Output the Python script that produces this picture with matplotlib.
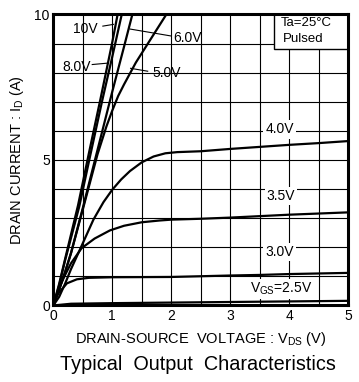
import matplotlib
matplotlib.use("Agg")
import matplotlib.pyplot as plt
from matplotlib.patches import Rectangle

plt.rcParams.update({
    'font.family': ['Liberation Sans', 'DejaVu Sans'],
    'mathtext.fontset': 'custom',
    'mathtext.rm': 'Liberation Sans',
    'mathtext.it': 'Liberation Sans',
})

# drain current curves (V_DS in V, I_D in A)
v_10 = [0, 0.1, 0.2, 0.42, 0.6, 0.8, 1.0, 1.09]
i_10 = [0, 0.75, 1.6, 3.45, 5.2, 7.1, 9.05, 10.0]

v_8 = [0, 0.1, 0.2, 0.44, 0.62, 0.83, 1.0, 1.16]
i_8 = [0, 0.7, 1.55, 3.4, 5.1, 7.05, 8.55, 10.0]

v_6 = [0, 0.1, 0.2, 0.3, 0.5, 0.75, 1.0, 1.2, 1.34]
i_6 = [0, 0.55, 1.15, 1.8, 3.35, 5.35, 7.35, 8.9, 10.0]

v_5 = [0, 0.1, 0.2, 0.3, 0.5, 0.75, 0.9, 1.0, 1.1, 1.2, 1.4, 1.65, 1.9]
i_5 = [0, 0.55, 1.15, 1.8, 3.3, 5.2, 6.15, 6.7, 7.2, 7.6, 8.35, 9.15, 9.95]

v_4 = [0, 0.1, 0.2, 0.3, 0.48, 0.68, 0.85, 1.0, 1.15, 1.3, 1.5, 1.7, 1.9,
       2.1, 2.5, 3.0, 3.5, 4.0, 4.5, 5.0]
i_4 = [0, 0.3, 0.75, 1.25, 2.05, 2.95, 3.55, 3.98, 4.33, 4.62, 4.92, 5.12, 5.23,
       5.27, 5.3, 5.38, 5.45, 5.52, 5.58, 5.65]

v_35 = [0, 0.05, 0.12, 0.2, 0.3, 0.48, 0.7, 0.96, 1.2, 1.5, 1.8, 2.0, 2.5, 3.0,
        3.5, 4.0, 4.5, 5.0]
i_35 = [0, 0.3, 0.7, 1.05, 1.45, 1.97, 2.3, 2.58, 2.74, 2.86, 2.92, 2.95, 2.98,
        3.02, 3.07, 3.12, 3.16, 3.2]

v_3 = [0, 0.05, 0.1, 0.23, 0.4, 0.6, 1.0, 2.0, 3.0, 3.5, 4.0, 5.0]
i_3 = [0, 0.3, 0.45, 0.76, 0.9, 0.95, 0.97, 0.98, 1.03, 1.05, 1.08, 1.12]

v_25 = [0, 0.3, 1.0, 2.0, 3.0, 4.0, 5.0]
i_25 = [0, 0.06, 0.08, 0.1, 0.12, 0.14, 0.16]

curves = [(v_10, i_10), (v_8, i_8), (v_6, i_6), (v_5, i_5), (v_4, i_4),
          (v_35, i_35), (v_3, i_3), (v_25, i_25)]

x_ticks = [0, 1, 2, 3, 4, 5]
y_ticks = [0, 5, 10]

fig = plt.figure(figsize=(3.59, 3.82), dpi=100)
ax = fig.add_axes([0.1485, 0.2003, 0.8215, 0.7618])

for v, i in curves:
    ax.plot(v, i, color='black', lw=1.6, zorder=3)

ax.set_xlim(0, 5)
ax.set_ylim(0, 10)
ax.set_xticks(x_ticks)
ax.set_yticks(y_ticks)
ax.set_xticks([k * 0.5 for k in range(11)], minor=True)
ax.set_yticks(range(11), minor=True)
ax.grid(which='both', color='black', lw=0.8)
ax.tick_params(which='both', length=0, labelsize=10, pad=2.5)
for s in ax.spines.values():
    s.set_linewidth(2.2)
    s.set_zorder(5)

ax.set_xlabel(r'DRAIN-SOURCE  VOLTAGE : $\mathrm{V_{DS}}$ (V)', fontsize=10.5, labelpad=5)
ax.set_ylabel(r'DRAIN CURRENT : $\mathrm{I_D}$ (A)', fontsize=10.5, labelpad=6)
fig.text(0.551, 0.045, 'Typical  Output  Characteristics', fontsize=14.3,
         ha='center', va='center')

# curve labels
box = dict(facecolor='white', edgecolor='none', pad=1.5)
leaders = [
    ('10V', (0.54, 9.5), (0.84, 9.6), (1.02, 9.66)),
    ('8.0V', (0.40, 8.2), (0.66, 8.28), (0.93, 8.33)),
    ('6.0V', (2.28, 9.2), (2.0, 9.26), (1.3, 9.5)),
    ('5.0V', (1.93, 7.98), (1.6, 8.05), (1.31, 8.15)),
]
for txt, pos, p0, p1 in leaders:
    ax.text(pos[0], pos[1], txt, fontsize=10, ha='center', va='center', zorder=4)
    ax.plot([p0[0], p1[0]], [p0[1], p1[1]], color='black', lw=0.8, zorder=4)

ax.text(3.84, 6.05, '4.0V', fontsize=10, ha='center', va='center', bbox=box, zorder=4)
ax.text(3.86, 3.75, '3.5V', fontsize=10, ha='center', va='center', bbox=box, zorder=4)
ax.text(3.83, 1.85, '3.0V', fontsize=10, ha='center', va='center', bbox=box, zorder=4)
ax.text(3.86, 0.57, r'$\mathrm{V_{GS}}$=2.5V', fontsize=10, ha='center', va='center',
        bbox=box, zorder=4)

ax.add_patch(Rectangle((0.748, 0.881), 0.252, 0.119, transform=ax.transAxes,
                       facecolor='white', edgecolor='black', lw=1.0, zorder=4))
ax.text(0.77, 0.972, 'Ta=25°C', transform=ax.transAxes, fontsize=9.5,
        ha='left', va='center', zorder=5)
ax.text(0.78, 0.916, 'Pulsed', transform=ax.transAxes, fontsize=9.5,
        ha='left', va='center', zorder=5)

fig.savefig('out.png', dpi=100)
